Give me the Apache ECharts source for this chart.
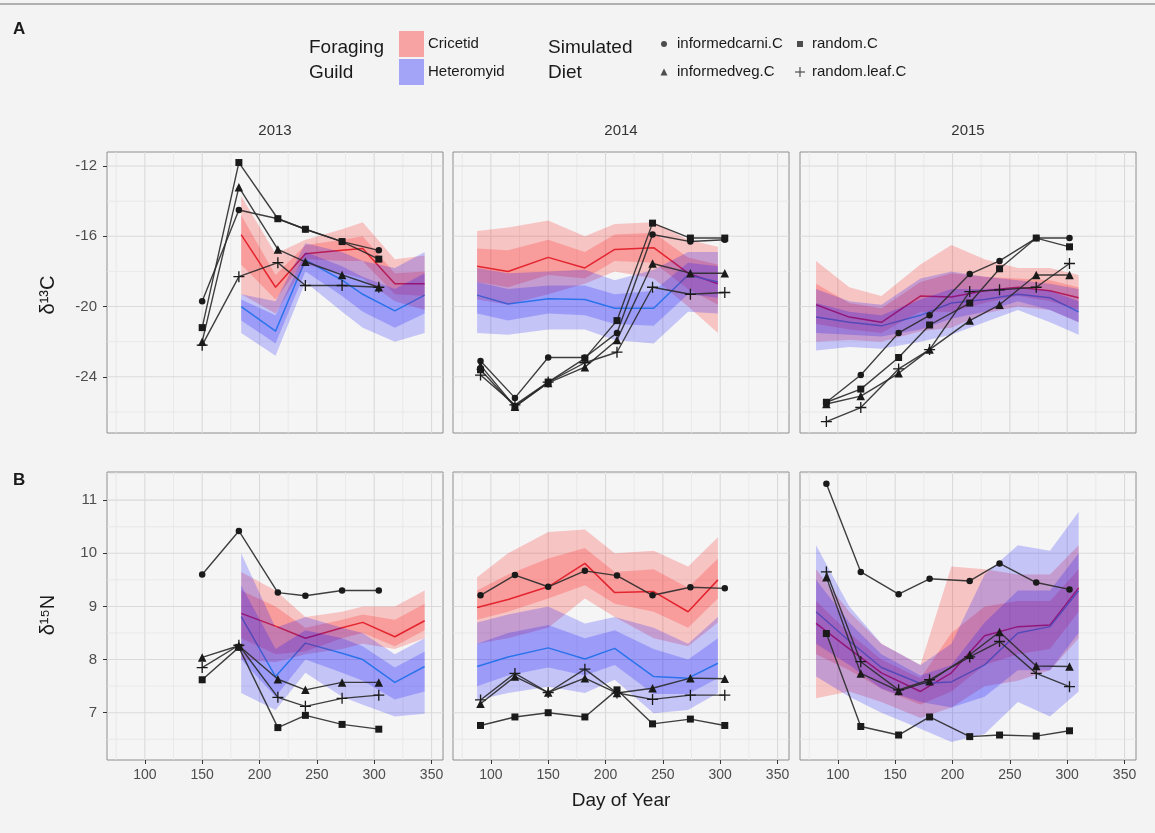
<!DOCTYPE html>
<html>
<head>
<meta charset="utf-8">
<script src="https://cdn.jsdelivr.net/npm/echarts@6/dist/echarts.min.js"></script>
<style>
  html, body { margin: 0; padding: 0; background: #f3f3f3; }
  #chart { width: 1155px; height: 833px; }
</style>
</head>
<body>
<div id="chart"></div>
<script>
// ---------- data ----------
const years = ['2013', '2014', '2015'];
const dietNames = ['informedcarni.C', 'random.C', 'informedveg.C', 'random.leaf.C'];
const guildNames = ['Cricetid', 'Heteromyid'];

// sampling days of the simulated diets
const dietDays2013 = [150, 182, 216, 240, 272, 304];
const dietDays2014 = [91, 121, 150, 182, 210, 241, 274, 304];
const dietDays2015 = [90, 120, 153, 180, 215, 241, 273, 302];

// d13C of simulated diets
const c13Carni2013 = [-19.7, -14.5, -15.0, -15.6, -16.3, -16.8];
const c13Random2013 = [-21.2, -11.8, -15.0, -15.6, -16.3, -17.3];
const c13Veg2013 = [-22.0, -13.2, -16.75, -17.45, -18.2, -18.9];
const c13Leaf2013 = [-22.2, -18.3, -17.5, -18.8, -18.8, -18.9];

const c13Carni2014 = [-23.1, -25.2, -22.9, -22.9, -21.5, -15.9, -16.3, -16.2];
const c13Random2014 = [-23.6, -25.7, -24.3, -22.95, -20.8, -15.25, -16.1, -16.1];
const c13Veg2014 = [-23.35, -25.7, -24.35, -23.45, -21.9, -17.55, -18.1, -18.1];
const c13Leaf2014 = [-23.9, -25.6, -24.3, -23.2, -22.6, -18.9, -19.3, -19.2];

const c13Carni2015 = [-25.45, -23.9, -21.5, -20.5, -18.15, -17.4, -16.1, -16.1];
const c13Random2015 = [-25.45, -24.7, -22.9, -21.05, -19.8, -17.85, -16.1, -16.6];
const c13Veg2015 = [-25.55, -25.1, -23.8, -22.45, -20.8, -19.9, -18.2, -18.2];
const c13Leaf2015 = [-26.55, -25.75, -23.55, -22.45, -19.15, -19.05, -18.9, -17.55];

// d15N of simulated diets
const n15Carni2013 = [9.6, 10.42, 9.26, 9.2, 9.3, 9.3];
const n15Random2013 = [7.62, 8.23, 6.72, 6.95, 6.78, 6.69];
const n15Veg2013 = [8.04, 8.26, 7.63, 7.43, 7.57, 7.57];
const n15Leaf2013 = [7.85, 8.27, 7.29, 7.12, 7.27, 7.33];

const n15Carni2014 = [9.21, 9.59, 9.37, 9.67, 9.58, 9.21, 9.36, 9.34];
const n15Random2014 = [6.76, 6.92, 7.0, 6.92, 7.43, 6.79, 6.88, 6.76];
const n15Veg2014 = [7.17, 7.68, 7.38, 7.65, 7.37, 7.46, 7.65, 7.64];
const n15Leaf2014 = [7.24, 7.74, 7.38, 7.82, 7.37, 7.25, 7.33, 7.33];

const n15Carni2015 = [11.31, 9.65, 9.23, 9.52, 9.48, 9.81, 9.45, 9.32];
const n15Random2015 = [8.49, 6.74, 6.58, 6.92, 6.55, 6.58, 6.56, 6.66];
const n15Veg2015 = [9.55, 7.74, 7.41, 7.59, 8.09, 8.52, 7.88, 7.87];
const n15Leaf2015 = [9.65, 7.96, 7.43, 7.62, 8.05, 8.34, 7.74, 7.49];

// trapping days of the rodent guilds
const guildDays2013 = [184, 214, 240, 272, 290, 318, 344];
const guildDays2014 = [88, 115, 150, 182, 208, 242, 272, 298];
const guildDays2015 = [81, 110, 138, 172, 199, 228, 257, 285, 310];

// guild d13C: mean, inner interval, outer interval
const crC2013 = {
  mean:    [-15.9, -18.9, -17.0, -16.8, -16.7, -18.7, -18.7],
  innerLo: [-17.6, -19.6, -17.3, -17.4, -17.4, -19.3, -19.4],
  innerHi: [-14.8, -18.2, -16.5, -16.2, -16.0, -18.1, -18.0],
  outerLo: [-19.3, -20.4, -17.6, -18.1, -18.4, -19.7, -20.2],
  outerHi: [-13.7, -17.0, -16.2, -15.6, -15.2, -17.3, -17.1]
};
const heC2013 = {
  mean:    [-20.0, -21.4, -17.35, -18.5, -19.3, -20.25, -19.35],
  innerLo: [-20.8, -22.1, -18.0, -19.4, -20.3, -21.2, -20.4],
  innerHi: [-19.6, -20.5, -16.9, -17.7, -18.3, -19.0, -18.1],
  outerLo: [-21.5, -22.8, -18.6, -20.3, -21.2, -22.0, -21.5],
  outerHi: [-19.3, -19.7, -16.4, -16.9, -17.4, -17.8, -16.9]
};
const crC2014 = {
  mean:    [-17.7, -18.0, -17.2, -17.8, -16.75, -16.65, -18.1, -18.7],
  innerLo: [-18.6, -18.9, -18.2, -18.4, -17.4, -17.5, -19.0, -19.9],
  innerHi: [-16.7, -16.8, -16.2, -16.9, -15.9, -15.8, -17.2, -17.6],
  outerLo: [-19.6, -19.9, -19.3, -18.7, -18.0, -18.4, -20.0, -21.5],
  outerHi: [-15.7, -15.5, -15.1, -16.0, -15.3, -15.2, -16.2, -16.6]
};
const heC2014 = {
  mean:    [-19.35, -19.85, -19.55, -19.6, -20.1, -20.1, -18.2, -18.6],
  innerLo: [-20.4, -20.8, -20.4, -20.5, -21.0, -21.1, -19.3, -19.5],
  innerHi: [-18.6, -19.0, -18.8, -18.8, -19.3, -19.1, -17.5, -17.7],
  outerLo: [-21.5, -21.6, -21.3, -21.3, -21.9, -22.1, -20.3, -20.4],
  outerHi: [-17.8, -18.1, -18.0, -17.9, -18.5, -17.9, -16.9, -16.9]
};
const crC2015 = {
  mean:    [-19.9, -20.6, -20.9, -19.4, -19.45, -19.1, -18.9, -19.1, -19.5],
  innerLo: [-21.0, -21.3, -21.5, -20.3, -20.3, -19.8, -19.4, -19.7, -20.2],
  innerHi: [-18.7, -19.8, -20.1, -18.6, -18.1, -18.3, -18.4, -18.5, -18.9],
  outerLo: [-22.0, -21.9, -22.0, -21.4, -21.2, -20.4, -20.0, -20.2, -20.9],
  outerHi: [-17.4, -18.9, -19.4, -17.6, -16.5, -17.3, -17.8, -17.8, -18.2]
};
const heC2015 = {
  mean:    [-20.6, -20.9, -21.1, -20.5, -19.8, -19.6, -19.3, -19.5, -20.3],
  innerLo: [-21.5, -21.6, -21.7, -21.3, -20.7, -20.3, -19.7, -20.2, -20.9],
  innerHi: [-19.8, -20.3, -20.5, -19.6, -19.0, -19.0, -18.9, -19.1, -19.7],
  outerLo: [-22.5, -22.3, -22.4, -22.0, -21.6, -20.9, -20.2, -20.9, -21.6],
  outerHi: [-19.0, -19.7, -19.9, -18.4, -18.0, -18.3, -18.5, -18.7, -19.0]
};

// guild d15N: mean, inner interval, outer interval
const crN2013 = {
  mean:    [8.87, 8.63, 8.4, 8.6, 8.7, 8.43, 8.73],
  innerLo: [8.4, 8.1, 8.15, 8.4, 8.5, 8.25, 8.55],
  innerHi: [9.3, 9.0, 8.6, 8.75, 8.85, 8.75, 9.05],
  outerLo: [8.0, 7.95, 8.1, 8.2, 8.3, 8.2, 8.4],
  outerHi: [9.65, 9.3, 8.8, 8.9, 9.0, 9.0, 9.3]
};
const heN2013 = {
  mean:    [8.81, 7.68, 8.31, 8.12, 8.0, 7.57, 7.87],
  innerLo: [8.0, 7.3, 8.0, 7.75, 7.6, 7.25, 7.4],
  innerHi: [9.4, 8.2, 8.55, 8.4, 8.25, 7.85, 8.15],
  outerLo: [7.37, 7.05, 7.75, 7.3, 7.15, 6.93, 6.98],
  outerHi: [10.0, 8.6, 8.8, 8.6, 8.5, 8.1, 8.4]
};
const crN2014 = {
  mean:    [8.98, 9.13, 9.37, 9.81, 9.26, 9.28, 8.9, 9.5],
  innerLo: [8.75, 8.9, 9.15, 9.4, 9.05, 8.9, 8.6, 9.15],
  innerHi: [9.3, 9.6, 9.9, 10.1, 9.65, 9.7, 9.35, 9.9],
  outerLo: [8.3, 8.4, 8.6, 9.15, 8.8, 8.4, 8.25, 8.7],
  outerHi: [9.55, 10.0, 10.4, 10.45, 10.0, 10.05, 9.75, 10.3]
};
const heN2014 = {
  mean:    [7.87, 8.05, 8.22, 8.01, 8.21, 7.68, 7.65, 7.93],
  innerLo: [7.5, 7.7, 7.85, 7.7, 7.9, 7.35, 7.35, 7.65],
  innerHi: [8.3, 8.5, 8.65, 8.4, 8.55, 8.2, 8.0, 8.4],
  outerLo: [7.24, 7.37, 7.49, 7.37, 7.62, 6.99, 7.05, 7.37],
  outerHi: [8.7, 8.85, 9.0, 8.68, 8.8, 8.6, 8.3, 8.8]
};
const crN2015 = {
  mean:    [8.68, 8.2, 7.75, 7.4, 7.75, 8.45, 8.62, 8.65, 9.35],
  innerLo: [8.1, 7.8, 7.45, 7.15, 7.4, 7.9, 8.1, 8.2, 8.9],
  innerHi: [9.1, 8.5, 8.0, 7.65, 8.5, 9.0, 9.1, 9.1, 9.7],
  outerLo: [7.27, 7.4, 7.2, 6.9, 7.1, 7.5, 7.6, 7.8, 8.4],
  outerHi: [9.7, 8.9, 8.3, 7.9, 9.75, 9.7, 9.6, 9.6, 10.15]
};
const heN2015 = {
  mean:    [8.9, 8.35, 7.85, 7.55, 7.58, 7.9, 8.5, 8.62, 9.3],
  innerLo: [8.3, 7.9, 7.45, 7.2, 7.1, 7.3, 7.8, 7.8, 8.5],
  innerHi: [9.5, 8.7, 8.1, 7.7, 7.9, 8.7, 9.3, 9.3, 10.0],
  outerLo: [7.68, 7.3, 7.0, 6.7, 6.45, 6.6, 7.2, 6.93, 7.4],
  outerHi: [10.15, 9.0, 8.3, 7.9, 8.3, 9.6, 10.15, 10.05, 10.78]
};

// axis ticks
const dayTicks = [100, 150, 200, 250, 300, 350];
const dayMinor = [75, 125, 175, 225, 275, 325];
const carbonTicks = [-24, -20, -16, -12];
const carbonMinor = [-26, -22, -18, -14];
const nitrogenTicks = [7, 8, 9, 10, 11];
const nitrogenMinor = [6.5, 7.5, 8.5, 9.5, 10.5, 11.5];

// ---------- assembly ----------
const dayRange = [67, 360];
const carbonRange = [-27.2, -11.2];
const nitrogenRange = [6.11, 11.53];

const FONT = '"Liberation Sans", Arial, sans-serif';
const colLeft = [107, 453, 800];
const colWidth = 336;
const rowTop = [152, 472];
const rowHeight = [281, 288];

const dietDays = [dietDays2013, dietDays2014, dietDays2015];
const carbonDiets = [
  [c13Carni2013, c13Random2013, c13Veg2013, c13Leaf2013],
  [c13Carni2014, c13Random2014, c13Veg2014, c13Leaf2014],
  [c13Carni2015, c13Random2015, c13Veg2015, c13Leaf2015]
];
const nitrogenDiets = [
  [n15Carni2013, n15Random2013, n15Veg2013, n15Leaf2013],
  [n15Carni2014, n15Random2014, n15Veg2014, n15Leaf2014],
  [n15Carni2015, n15Random2015, n15Veg2015, n15Leaf2015]
];
const guildDays = [guildDays2013, guildDays2014, guildDays2015];
const carbonGuilds = [[crC2013, heC2013], [crC2014, heC2014], [crC2015, heC2015]];
const nitrogenGuilds = [[crN2013, heN2013], [crN2014, heN2014], [crN2015, heN2015]];

const PLUS = 'path://M4.4,0H5.6V4.4H10V5.6H5.6V10H4.4V5.6H0V4.4H4.4Z';
const dietSymbols = [
  { symbol: 'circle', size: 6.5 },
  { symbol: 'rect', size: 7 },
  { symbol: 'triangle', size: 8.5 },
  { symbol: PLUS, size: 11 }
];
// mean lines sit under the translucent intervals, which tint them
const guildLine = ['#d63a4a', '#45b4e2'];
const guildFill = ['rgba(255,0,0,0.2)', 'rgba(0,0,255,0.2)'];

const grids = [], xAxes = [], yAxes = [], series = [];

function gridLines(idx, xs, ys) {
  // vertical and horizontal panel grid lines placed through the axes
  const items = [];
  dayMinor.forEach(v => items.push([0, v, 0]));
  dayTicks.forEach(v => items.push([0, v, 1]));
  ys.minor.forEach(v => items.push([1, v, 0]));
  ys.major.forEach(v => items.push([1, v, 1]));
  return {
    type: 'custom', xAxisIndex: idx, yAxisIndex: idx, z: 1, silent: true,
    data: items,
    encode: { x: -1, y: -1 },
    renderItem: function (params, api) {
      const cs = params.coordSys;
      const dir = api.value(0), v = api.value(1), major = api.value(2);
      const style = { stroke: major ? '#dadada' : '#e6e6e6', lineWidth: major ? 1.1 : 0.8 };
      if (dir === 0) {
        const px = api.coord([v, ys.range[0]])[0];
        return { type: 'line', shape: { x1: px, y1: cs.y, x2: px, y2: cs.y + cs.height }, style };
      }
      const py = api.coord([xs[0], v])[1];
      return { type: 'line', shape: { x1: cs.x, y1: py, x2: cs.x + cs.width, y2: py }, style };
    }
  };
}

function ribbon(idx, days, lo, hi, fill) {
  const pts = days.map((d, i) => [d, lo[i], hi[i]]);
  return {
    type: 'custom', xAxisIndex: idx, yAxisIndex: idx, z: 3, silent: true,
    data: pts,
    encode: { x: 0, y: [1, 2] },
    renderItem: function (params, api) {
      if (params.dataIndex !== 0) return null;
      const upper = pts.map(p => api.coord([p[0], p[2]]));
      const lower = pts.map(p => api.coord([p[0], p[1]])).reverse();
      return { type: 'polygon', shape: { points: upper.concat(lower) }, style: { fill: fill } };
    }
  };
}

for (let r = 0; r < 2; r++) {
  for (let c = 0; c < 3; c++) {
    const idx = r * 3 + c;
    const yRange = r === 0 ? carbonRange : nitrogenRange;
    const yMajor = r === 0 ? carbonTicks : nitrogenTicks;
    const yMinor = r === 0 ? carbonMinor : nitrogenMinor;
    grids.push({
      left: colLeft[c], top: rowTop[r], width: colWidth, height: rowHeight[r],
      show: true, backgroundColor: '#f5f5f5', borderColor: '#8e8e8e', borderWidth: 1
    });
    const bottomRow = r === 1;
    xAxes.push({
      type: 'value', gridIndex: idx, min: dayRange[0], max: dayRange[1],
      axisLine: { show: false }, splitLine: { show: false },
      axisTick: { show: bottomRow, customValues: dayTicks, length: 4, lineStyle: { color: '#333' } },
      axisLabel: { show: bottomRow, customValues: dayTicks, color: '#4d4d4d', fontSize: 14, fontFamily: FONT, margin: 8 }
    });
    const leftCol = c === 0;
    yAxes.push({
      type: 'value', gridIndex: idx, min: yRange[0], max: yRange[1],
      axisLine: { show: false }, splitLine: { show: false },
      axisTick: { show: leftCol, customValues: yMajor, length: 4, lineStyle: { color: '#333' } },
      axisLabel: { show: leftCol, customValues: yMajor, color: '#4d4d4d', fontSize: 15, fontFamily: FONT, margin: 10 }
    });

    series.push(gridLines(idx, dayRange, { range: yRange, major: yMajor, minor: yMinor }));

    const guilds = r === 0 ? carbonGuilds[c] : nitrogenGuilds[c];
    const gDays = guildDays[c];
    guilds.forEach((g, k) => {
      series.push({
        type: 'line', name: guildNames[k], xAxisIndex: idx, yAxisIndex: idx, z: 2,
        data: gDays.map((d, i) => [d, g.mean[i]]),
        symbol: 'none', silent: true,
        lineStyle: { color: guildLine[k], width: 1.5 }
      });
    });
    guilds.forEach((g, k) => {
      series.push(ribbon(idx, gDays, g.outerLo, g.outerHi, guildFill[k]));
      series.push(ribbon(idx, gDays, g.innerLo, g.innerHi, guildFill[k]));
    });

    const diets = r === 0 ? carbonDiets[c] : nitrogenDiets[c];
    const dDays = dietDays[c];
    diets.forEach((vals, k) => {
      series.push({
        type: 'line', name: dietNames[k], xAxisIndex: idx, yAxisIndex: idx, z: 5,
        data: dDays.map((d, i) => [d, vals[i]]),
        symbol: dietSymbols[k].symbol, symbolSize: dietSymbols[k].size, showSymbol: true,
        silent: true,
        itemStyle: { color: '#1a1a1a' },
        lineStyle: { color: '#2a2a2a', width: 1.4, opacity: 0.9 }
      });
    });
  }
}

// ---------- text, legend, labels ----------
const txt = (text, x, y, size, opts) => Object.assign({
  type: 'text', x: x, y: y, silent: true,
  style: Object.assign({ text: text, fontSize: size, fontFamily: FONT, fill: '#1a1a1a', align: 'left', verticalAlign: 'middle' }, (opts && opts.style) || {})
}, (opts && opts.el) || {});

const graphic = [
  { type: 'line', silent: true, shape: { x1: 0, y1: 4, x2: 1155, y2: 4 }, style: { stroke: '#9a9a9a', lineWidth: 1.5 } },
  txt('A', 13, 29, 17, { style: { fontWeight: 'bold' } }),
  txt('B', 13, 480, 17, { style: { fontWeight: 'bold' } }),
  // strip titles
  txt(years[0], colLeft[0] + colWidth / 2, 131, 15, { style: { align: 'center', fill: '#333' } }),
  txt(years[1], colLeft[1] + colWidth / 2, 131, 15, { style: { align: 'center', fill: '#333' } }),
  txt(years[2], colLeft[2] + colWidth / 2, 131, 15, { style: { align: 'center', fill: '#333' } }),
  // axis titles
  txt('δ¹³C', 48, 295, 20, { style: { align: 'center' }, el: { rotation: Math.PI / 2 } }),
  txt('δ¹⁵N', 48, 615, 20, { style: { align: 'center' }, el: { rotation: Math.PI / 2 } }),
  txt('Day of Year', 621, 801, 19, { style: { align: 'center' } }),
  // guild legend
  txt('Foraging', 309, 48, 19),
  txt('Guild', 309, 73, 19),
  { type: 'rect', silent: true, shape: { x: 399, y: 31, width: 25, height: 26 }, style: { fill: 'rgba(255,0,0,0.33)' } },
  { type: 'rect', silent: true, shape: { x: 399, y: 59, width: 25, height: 26 }, style: { fill: 'rgba(0,0,255,0.33)' } },
  txt(guildNames[0], 428, 44, 15),
  txt(guildNames[1], 428, 72, 15),
  // diet legend
  txt('Simulated', 548, 48, 19),
  txt('Diet', 548, 73, 19),
  { type: 'circle', silent: true, shape: { cx: 664, cy: 44, r: 3 }, style: { fill: '#4d4d4d' } },
  txt(dietNames[0], 677, 44, 15),
  { type: 'rect', silent: true, shape: { x: 797, y: 41, width: 6, height: 6 }, style: { fill: '#4d4d4d' } },
  txt(dietNames[1], 812, 44, 15),
  { type: 'polygon', silent: true, shape: { points: [[660.5, 75.5], [667.5, 75.5], [664, 68.5]] }, style: { fill: '#4d4d4d' } },
  txt(dietNames[2], 677, 72, 15),
  { type: 'rect', silent: true, shape: { x: 795, y: 71.4, width: 10, height: 1.2 }, style: { fill: '#4d4d4d' } },
  { type: 'rect', silent: true, shape: { x: 799.4, y: 67, width: 1.2, height: 10 }, style: { fill: '#4d4d4d' } },
  txt(dietNames[3], 812, 72, 15)
];

const chart = echarts.init(document.getElementById('chart'), null, { renderer: 'canvas' });
chart.setOption({
  backgroundColor: '#f3f3f3',
  animation: false,
  grid: grids,
  xAxis: xAxes,
  yAxis: yAxes,
  series: series,
  graphic: graphic
});
</script>
</body>
</html>
